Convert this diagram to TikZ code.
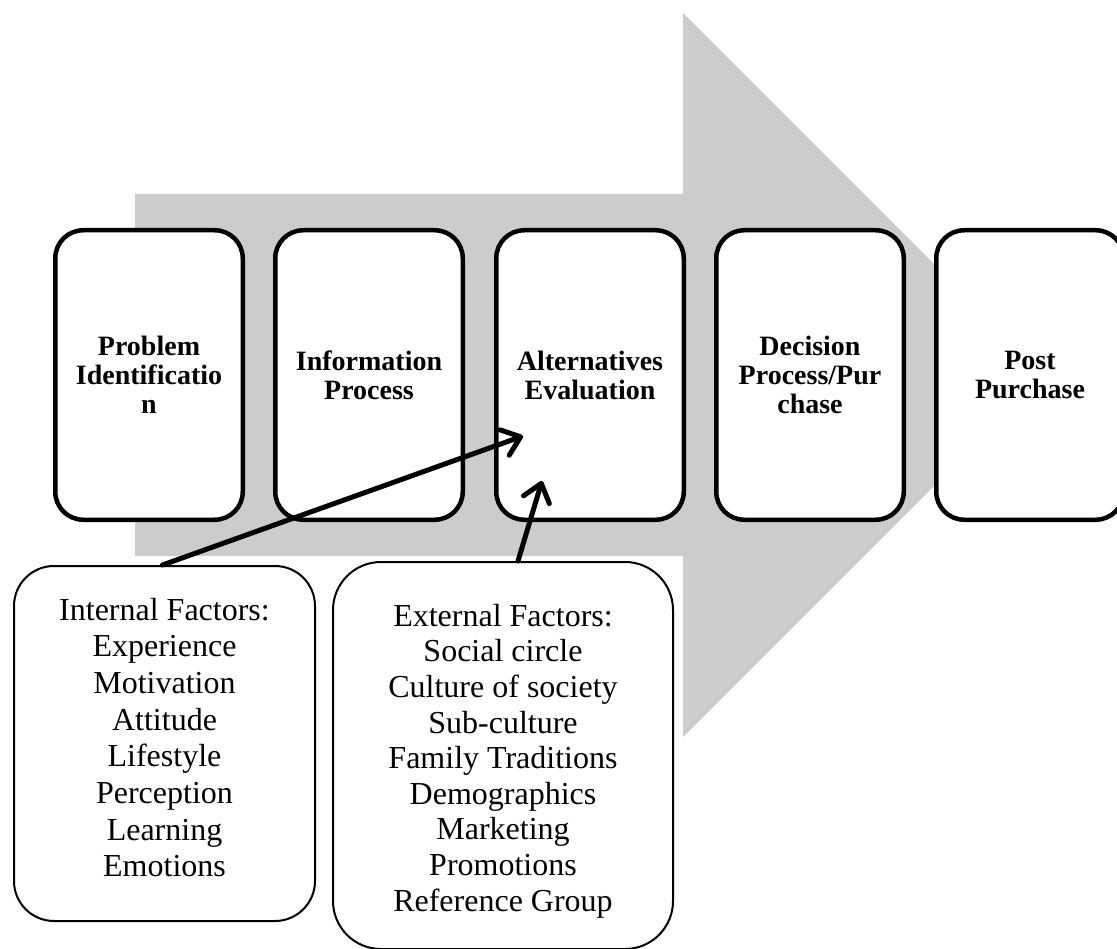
\documentclass[tikz,border=0pt]{standalone}
\usepackage{fontspec}
\setmainfont{Liberation Serif}
\usetikzlibrary{arrows.meta,calc}
\definecolor{flowgray}{RGB}{204,204,204}
\begin{document}
\begin{tikzpicture}[x=1pt,y=-1pt,
  stage/.style={draw, line width=4.5pt, rounded corners=28pt, fill=white,
    minimum width=187.5pt, minimum height=289.5pt, inner sep=0pt,
    align=center, font=\bfseries\fontsize{28}{29}\selectfont},
  factors/.style={draw, line width=2pt, rounded corners=#1, fill=white,
    inner sep=0pt, align=center, text depth=0pt},
  influence/.style={line width=5pt, line cap=round,
    -{Straight Barb[length=17pt,width=27pt,round]}}
]
\useasboundingbox (0,0) rectangle (1117,949);

% large background process arrow
\fill[flowgray] (135,194) -- (683,194) -- (683,13) -- (1045,375)
  -- (683,737) -- (683,556) -- (135,556) -- cycle;

% decision process stages
\node[stage] (prob) at (149,375) {Problem\\Identificatio\\n};
\node[stage] (info) at (369,375) {Information\\Process};
\node[stage] (alt)  at (590,375) {Alternatives\\Evaluation};
\node[stage] (dec)  at (810,375) {Decision\\Process/Pur\\chase};
\node[stage] (post) at (1030,375) {Post\\Purchase};

% influencing factors (text height places the last baseline in the box)
\node[factors=40pt, minimum width=301pt, minimum height=355pt,
  text height=266.8pt,
  font=\fontsize{32}{36.7}\selectfont] (int) at (164.5,743.5)
  {Internal Factors:\\Experience\\Motivation\\Attitude\\Lifestyle\\Perception\\Learning\\Emotions};
\node[factors=48pt, minimum width=340pt, minimum height=387pt,
  text height=311pt,
  font=\fontsize{32}{35.6}\selectfont] (ext) at (503,755.5)
  {External Factors:\\Social circle\\Culture of society\\Sub-culture\\Family Traditions\\Demographics\\Marketing\\Promotions\\Reference Group};

% arrow targets inside the evaluation stage
\coordinate (t1) at ($(alt.center)+(-67,61)$);
\coordinate (t2) at ($(alt.center)+(-48,106)$);

\draw[influence] ([xshift=-2pt]int.north) -- (t1);
\draw[influence] ([xshift=15pt]ext.north) -- (t2);
\end{tikzpicture}
\end{document}
